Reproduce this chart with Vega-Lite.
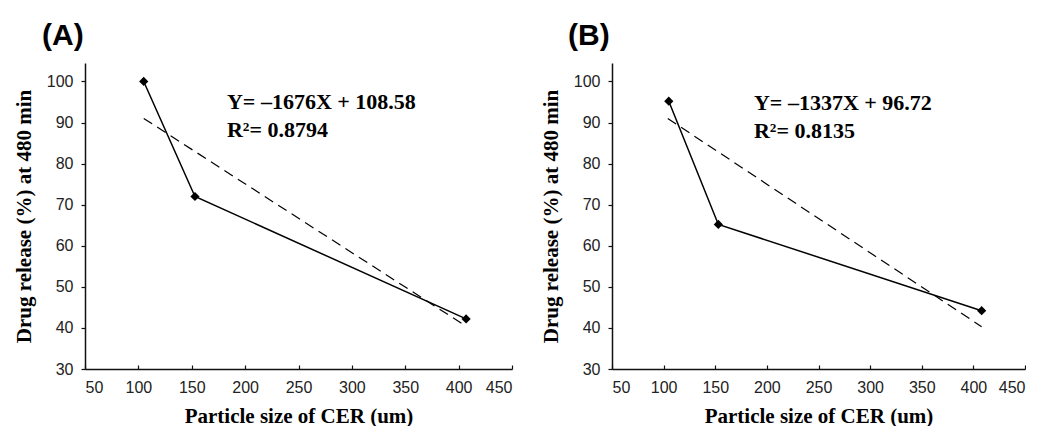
{
  "$schema": "https://vega.github.io/schema/vega-lite/v6.json",
  "background": "white",
  "padding": {"left": 13, "top": 21, "right": 0, "bottom": 0},
  "datasets": {
    "obs": [
      {"panel": "A", "size": 105, "release": 100},
      {"panel": "A", "size": 153, "release": 72},
      {"panel": "A", "size": 407, "release": 42.2},
      {"panel": "B", "size": 105, "release": 95.2},
      {"panel": "B", "size": 153, "release": 65.2},
      {"panel": "B", "size": 408, "release": 44.2}
    ],
    "trend": [
      {"panel": "A", "size": 105, "release": 91},
      {"panel": "A", "size": 407, "release": 40.4},
      {"panel": "B", "size": 104, "release": 91},
      {"panel": "B", "size": 408, "release": 40.3}
    ],
    "eq": [
      {"panel": "A", "size": 183, "release": 93.2, "label": "Y= –1676X + 108.58"},
      {"panel": "A", "size": 183, "release": 86.6, "label": "R²= 0.8794"},
      {"panel": "B", "size": 187.5, "release": 93.1, "label": "Y= –1337X + 96.72"},
      {"panel": "B", "size": 187.5, "release": 86.2, "label": "R²= 0.8135"}
    ]
  },
  "spacing": 27,
  "hconcat": [
    {
      "width": 427,
      "height": 306,
      "title": {"text": "(A)", "anchor": "start", "frame": "group", "dx": -43, "offset": 12},
      "encoding": {
        "x": {"field": "size", "type": "quantitative", "scale": {"domain": [50, 450], "nice": false, "zero": false},
              "axis": {"values": [50, 100, 150, 200, 250, 300, 350, 400, 450], "title": "Particle size of CER (um)"}},
        "y": {"field": "release", "type": "quantitative", "scale": {"domain": [30, 104.5], "nice": false, "zero": false},
              "axis": {"values": [30, 40, 50, 60, 70, 80, 90, 100], "title": "Drug release (%) at 480 min"}}
      },
      "layer": [
        {"data": {"name": "trend"}, "transform": [{"filter": "datum.panel === 'A'"}],
         "mark": {"type": "line", "color": "black", "strokeWidth": 1.2, "strokeDash": [10, 6]}},
        {"data": {"name": "obs"}, "transform": [{"filter": "datum.panel === 'A'"}],
         "mark": {"type": "line", "color": "black", "strokeWidth": 1.5}},
        {"data": {"name": "obs"}, "transform": [{"filter": "datum.panel === 'A'"}],
         "mark": {"type": "point", "shape": "diamond", "filled": true, "color": "black", "size": 85, "opacity": 1}},
        {"data": {"name": "eq"}, "transform": [{"filter": "datum.panel === 'A'"}],
         "mark": {"type": "text", "align": "left", "baseline": "alphabetic", "font": "Liberation Serif", "fontWeight": "bold", "fontSize": 22, "color": "black"},
         "encoding": {"text": {"field": "label"}}}
      ]
    },
    {
      "width": 413,
      "height": 306,
      "title": {"text": "(B)", "anchor": "start", "frame": "group", "dx": -44, "offset": 12},
      "encoding": {
        "x": {"field": "size", "type": "quantitative", "scale": {"domain": [50, 450], "nice": false, "zero": false},
              "axis": {"values": [50, 100, 150, 200, 250, 300, 350, 400, 450], "title": "Particle size of CER (um)"}},
        "y": {"field": "release", "type": "quantitative", "scale": {"domain": [30, 104.5], "nice": false, "zero": false},
              "axis": {"values": [30, 40, 50, 60, 70, 80, 90, 100], "title": "Drug release (%) at 480 min"}}
      },
      "layer": [
        {"data": {"name": "trend"}, "transform": [{"filter": "datum.panel === 'B'"}],
         "mark": {"type": "line", "color": "black", "strokeWidth": 1.2, "strokeDash": [10, 6]}},
        {"data": {"name": "obs"}, "transform": [{"filter": "datum.panel === 'B'"}],
         "mark": {"type": "line", "color": "black", "strokeWidth": 1.5}},
        {"data": {"name": "obs"}, "transform": [{"filter": "datum.panel === 'B'"}],
         "mark": {"type": "point", "shape": "diamond", "filled": true, "color": "black", "size": 85, "opacity": 1}},
        {"data": {"name": "eq"}, "transform": [{"filter": "datum.panel === 'B'"}],
         "mark": {"type": "text", "align": "left", "baseline": "alphabetic", "font": "Liberation Serif", "fontWeight": "bold", "fontSize": 22, "color": "black"},
         "encoding": {"text": {"field": "label"}}}
      ]
    }
  ],
  "config": {
    "view": {"stroke": null},
    "title": {"font": "Liberation Sans", "fontSize": 30, "fontWeight": "bold", "color": "black"},
    "axis": {
      "grid": false,
      "domainColor": "#111",
      "domainWidth": 1.5,
      "tickColor": "#111",
      "tickWidth": 1.2,
      "labelFont": "Liberation Sans",
      "labelFontSize": 16,
      "labelColor": "#222",
      "titleFont": "Liberation Serif",
      "titleFontWeight": "bold",
      "titleFontSize": 21,
      "titleColor": "black"
    },
    "axisX": {"tickSize": -4, "labelPadding": 14, "titlePadding": 10},
    "axisY": {"tickSize": 4, "labelPadding": 8, "titlePadding": 12}
  }
}
